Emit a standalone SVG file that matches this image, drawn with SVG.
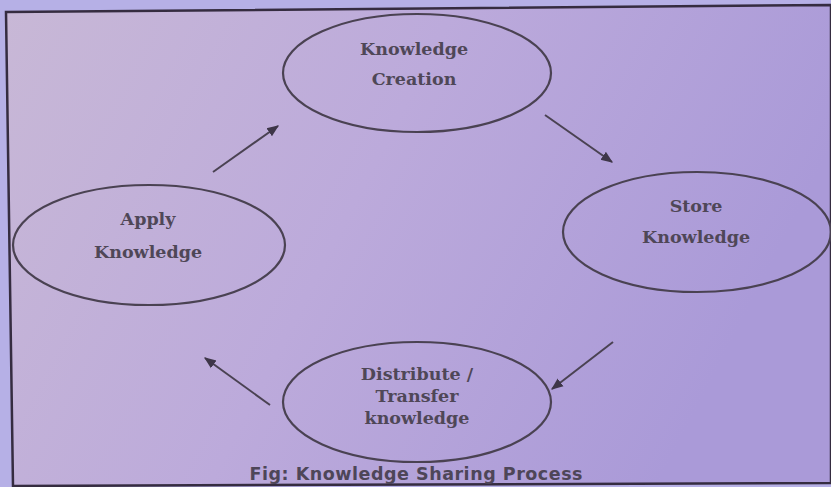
<svg xmlns="http://www.w3.org/2000/svg" width="831" height="487" viewBox="0 0 831 487">
  <defs>
    <linearGradient id="bg" x1="0" y1="0" x2="1" y2="0.3">
      <stop offset="0" stop-color="#c8b8d6"/>
      <stop offset="0.5" stop-color="#bcaadb"/>
      <stop offset="1" stop-color="#aa9ad8"/>
    </linearGradient>
    <marker id="ah" viewBox="0 0 10 10" refX="9" refY="5" markerWidth="6" markerHeight="6" orient="auto" markerUnits="strokeWidth">
      <path d="M0,1 L10,5 L0,9 Z" fill="#3e3648"/>
    </marker>
    <style>
      .node ellipse { fill: none; stroke: #4a4252; stroke-width: 2.2; }
      .lbl { font-family: "DejaVu Serif", "Liberation Serif", serif; font-size: 17.5px; font-weight: bold; fill: #4f4757; text-anchor: middle; }
      .conn line { stroke: #4a4252; stroke-width: 2; marker-end: url(#ah); }
      .cap { font-family: "DejaVu Sans", "Liberation Sans", sans-serif; font-size: 17.5px; font-weight: bold; fill: #4e4658; text-anchor: middle; }
    </style>
  </defs>
  <rect x="0" y="0" width="831" height="487" fill="#b6b0e6"/>
  <polygon points="6,12 831,5 831,483 13,486" fill="url(#bg)" stroke="#352c40" stroke-width="2.5"/>

  <g id="creation" class="node">
    <ellipse cx="417" cy="73" rx="134" ry="59"/>
    <text class="lbl" x="414" y="55">Knowledge</text>
    <text class="lbl" x="414" y="85">Creation</text>
  </g>
  <g id="store" class="node">
    <ellipse cx="697" cy="232" rx="134" ry="60"/>
    <text class="lbl" x="696" y="212">Store</text>
    <text class="lbl" x="696" y="243">Knowledge</text>
  </g>
  <g id="distribute" class="node">
    <ellipse cx="417" cy="402" rx="134" ry="60"/>
    <text class="lbl" x="417" y="380">Distribute /</text>
    <text class="lbl" x="417" y="402">Transfer</text>
    <text class="lbl" x="417" y="424">knowledge</text>
  </g>
  <g id="apply" class="node">
    <ellipse cx="149" cy="245" rx="136" ry="60"/>
    <text class="lbl" x="148" y="225">Apply</text>
    <text class="lbl" x="148" y="258">Knowledge</text>
  </g>

  <g id="connectors" class="conn">
    <line x1="545" y1="115" x2="612" y2="162"/>
    <line x1="613" y1="342" x2="552" y2="389"/>
    <line x1="270" y1="405" x2="205" y2="358"/>
    <line x1="213" y1="172" x2="278" y2="126"/>
  </g>

  <text class="cap" x="416" y="480" textLength="333">Fig: Knowledge Sharing Process</text>
</svg>
